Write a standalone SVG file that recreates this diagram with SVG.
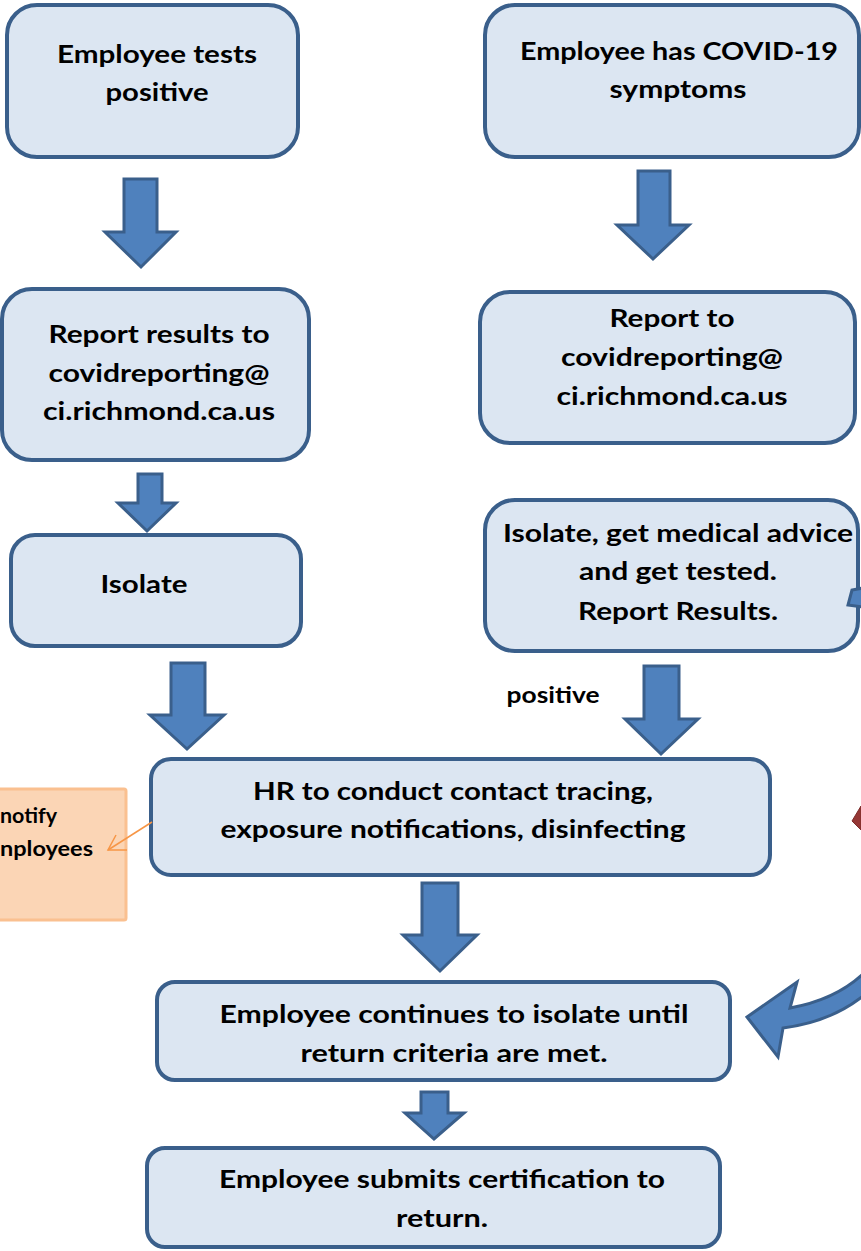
<svg xmlns="http://www.w3.org/2000/svg" width="861" height="1251" viewBox="0 0 861 1251">
<defs>
<style>
.box{fill:#DCE6F2;stroke:#3A5F8B;stroke-width:4}
.arr{fill:#4F81BD;stroke:#3A5F8B;stroke-width:3;stroke-linejoin:miter}
.t{font-family:"Lato","Open Sans",sans-serif;font-weight:bold;font-size:25px;fill:#000;text-anchor:middle}
.s{font-size:22px}
.o{font-size:20px;text-anchor:start}
</style>
</defs>
<rect width="861" height="1251" fill="#fff"/>

<g id="n1">
<rect class="box" x="7" y="5" width="291" height="152" rx="30"/>
<text class="t" x="157" y="63" textLength="200" lengthAdjust="spacingAndGlyphs">Employee tests</text>
<text class="t" x="157" y="101" textLength="103" lengthAdjust="spacingAndGlyphs">positive</text>
</g>

<g id="n2">
<rect class="box" x="485" y="5" width="374" height="152" rx="30"/>
<text class="t" x="679" y="60" textLength="318" lengthAdjust="spacingAndGlyphs">Employee has COVID-19</text>
<text class="t" x="678" y="98" textLength="137" lengthAdjust="spacingAndGlyphs">symptoms</text>
</g>

<g id="n3">
<rect class="box" x="2" y="289" width="307" height="171" rx="30"/>
<text class="t" x="159" y="343" textLength="221" lengthAdjust="spacingAndGlyphs">Report results to</text>
<text class="t" x="159" y="382" textLength="221" lengthAdjust="spacingAndGlyphs">covidreporting@</text>
<text class="t" x="159" y="420" textLength="232" lengthAdjust="spacingAndGlyphs">ci.richmond.ca.us</text>
</g>

<g id="n4">
<rect class="box" x="11" y="535" width="290" height="111" rx="24"/>
<text class="t" x="144" y="593" textLength="87" lengthAdjust="spacingAndGlyphs">Isolate</text>
</g>

<g id="n5">
<rect class="box" x="480" y="292" width="375" height="151" rx="30"/>
<text class="t" x="672" y="327" textLength="125" lengthAdjust="spacingAndGlyphs">Report to</text>
<text class="t" x="672" y="366" textLength="222" lengthAdjust="spacingAndGlyphs">covidreporting@</text>
<text class="t" x="672" y="405" textLength="231" lengthAdjust="spacingAndGlyphs">ci.richmond.ca.us</text>
</g>

<g id="n6">
<rect class="box" x="485" y="500" width="373" height="151" rx="30"/>
<text class="t" x="678" y="542" textLength="350" lengthAdjust="spacingAndGlyphs">Isolate, get medical advice</text>
<text class="t" x="678" y="580" textLength="198" lengthAdjust="spacingAndGlyphs">and get tested.</text>
<text class="t" x="678" y="620" textLength="200" lengthAdjust="spacingAndGlyphs">Report Results.</text>
</g>

<g id="n7">
<rect x="-40" y="789" width="166" height="131" fill="#FBD5B5" stroke="#FAC090" stroke-width="3" rx="2"/>
<text class="t o" x="0" y="823" textLength="57" lengthAdjust="spacingAndGlyphs">notify</text>
<text class="t o" x="0" y="856" textLength="93" lengthAdjust="spacingAndGlyphs">nployees</text>
</g>

<g id="n8">
<rect class="box" x="151" y="759" width="619" height="116" rx="20"/>
<text class="t" x="453" y="800" textLength="400" lengthAdjust="spacingAndGlyphs">HR to conduct contact tracing,</text>
<text class="t" x="453" y="838" textLength="465" lengthAdjust="spacingAndGlyphs">exposure notifications, disinfecting</text>
</g>

<g id="n9">
<rect class="box" x="157" y="982" width="573" height="98" rx="18"/>
<text class="t" x="454" y="1023" textLength="469" lengthAdjust="spacingAndGlyphs">Employee continues to isolate until</text>
<text class="t" x="454" y="1062" textLength="307" lengthAdjust="spacingAndGlyphs">return criteria are met.</text>
</g>

<g id="n10">
<rect class="box" x="147" y="1148" width="573" height="99" rx="18"/>
<text class="t" x="442" y="1188" textLength="446" lengthAdjust="spacingAndGlyphs">Employee submits certification to</text>
<text class="t" x="442" y="1227" textLength="92" lengthAdjust="spacingAndGlyphs">return.</text>
</g>

<g id="connectors">
<polygon class="arr" points="124,179 157,179 157,232 176,232 141,267 105,232 124,232"/>
<polygon class="arr" points="638,171 670,171 670,225 689,225 653,259 617,225 638,225"/>
<polygon class="arr" points="138,474 162,474 162,503 176,503 147,531 118,503 138,503"/>
<polygon class="arr" points="171,663 205,663 205,715 224,715 187,749 150,715 171,715"/>
<polygon class="arr" points="644,666 679,666 679,719 698,719 661,754 625,719 644,719"/>
<polygon class="arr" points="422,883 458,883 458,935 477,935 440,971 403,935 422,935"/>
<polygon class="arr" points="421,1092 448,1092 448,1113 464,1113 434,1139 405,1113 421,1113"/>
<text class="t s" x="553" y="703" textLength="93" lengthAdjust="spacingAndGlyphs">positive</text>
<line x1="152" y1="822" x2="108" y2="850" stroke="#F79646" stroke-width="1.5"/>
<polyline points="116,835 108,850 127,850" fill="none" stroke="#F79646" stroke-width="1.5"/>
<path class="arr" d="M747,1017 L797,982 L790,1008 Q835,1000 863,974 L863,996 Q830,1022 783,1028 L778,1057 Z"/>
<polygon class="arr" points="852,590 848,605 863,607 863,588"/>
<polygon points="852,821 861,806 861,830" fill="#953735" stroke="#7B2C2A" stroke-width="1"/>
</g>
</svg>
